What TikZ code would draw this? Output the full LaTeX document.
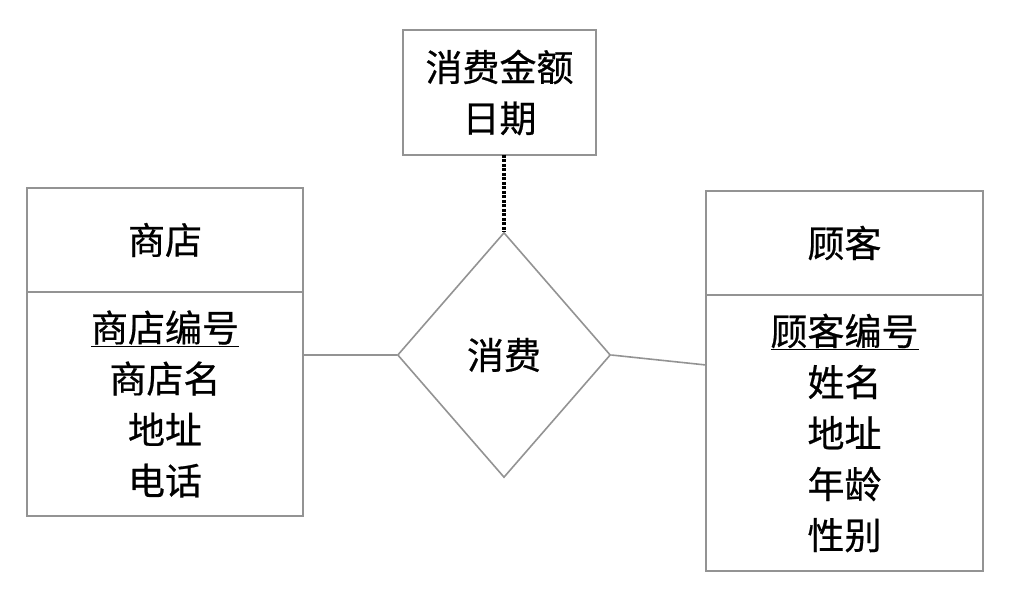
\documentclass[tikz,border=0pt]{standalone}
\usepackage{fontspec}
\setmainfont{Noto Sans CJK SC}[FakeBold=0.6]
\usetikzlibrary{positioning,shapes.geometric,calc}

\begin{document}
\begin{tikzpicture}[x=1pt, y=-1pt,
        box/.style={draw=gray!85, line width=1.6pt, inner sep=0pt, outer sep=0pt,
            align=center, font=\fontsize{37}{51}\selectfont},
        rel/.style={draw=gray!85, line width=1.6pt, diamond, inner sep=0pt,
            minimum width=213pt, minimum height=245pt, font=\fontsize{37}{51}\selectfont},
        link/.style={gray!85, line width=1.6pt}]
    \useasboundingbox (0,0) rectangle (1034,601);

    \node[box, minimum width=193pt, minimum height=125pt] (amount) at (499.5,92.5) {消费金额\\日期};
    \node[rel] (buy) at (504,355) {消费};

    % entity: store
    \node[box, minimum width=276pt, minimum height=104pt] (store) at (165,240) {商店};
    \node[box, minimum width=276pt, minimum height=224pt, below=0pt of store] (storeattr)
        {\underline{商店编号}\\商店名\\地址\\电话};

    % entity: customer
    \node[box, minimum width=277pt, minimum height=104pt] (cust) at (844.5,243) {顾客};
    \node[box, minimum width=277pt, minimum height=276pt, below=0pt of cust] (custattr)
        {\underline{顾客编号}\\姓名\\地址\\年龄\\性别};

    \coordinate (custin) at ($(custattr.north west)+(0,70)$);
    \draw[link] (storeattr.east |- buy.west) -- (buy.west);
    \draw[link] (buy.east) -- (custin);
    \draw[black, line width=4pt, dash pattern=on 3pt off 1.5pt] (buy.north |- amount.south) -- (buy.north);
\end{tikzpicture}
\end{document}
